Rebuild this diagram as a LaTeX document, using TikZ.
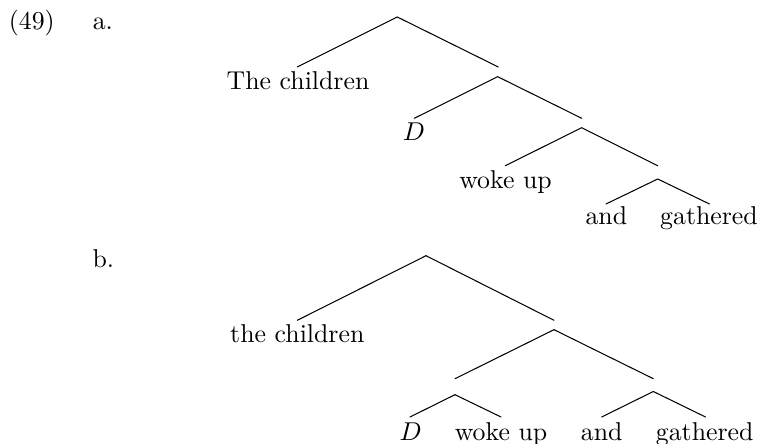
\documentclass[tikz,border=0pt]{standalone}
\begin{document}
\begin{tikzpicture}[x=0.3876pt,y=-0.3876pt,
  br/.style={line width=0.4pt, line cap=round},
  word/.style={inner sep=0pt, anchor=base},
  tag/.style={inner sep=0pt, anchor=base west}]
\useasboundingbox (0,0) rectangle (760,444);
% labels
\node[tag] (ex) at (8.3,30) {(49)};
\node[tag] (la) at (92.3,30) {a.};
\node[tag] (lb) at (92,268) {b.};

% ---------- tree a ----------
\coordinate (a1) at (397.3,17);
\coordinate (a1l) at (297.3,67);
\coordinate (a1r) at (498.3,67);
\coordinate (a2) at (497.7,76.7);
\coordinate (a2l) at (414.3,118.3);
\coordinate (a2r) at (581.7,118.3);
\coordinate (a3) at (581.7,127.7);
\coordinate (a3l) at (505.3,165.7);
\coordinate (a3r) at (657.7,165.7);
\coordinate (a4) at (657.7,179);
\coordinate (a4l) at (606,204);
\coordinate (a4r) at (709.5,204);
\node[word] (ta) at (298,90) {The children};
\node[word] (da) at (414,140.5) {$D$};
\node[word] (wa) at (505.5,188.3) {woke up};
\node[word] (na) at (606.3,225) {and};
\node[word] (ga) at (709,225) {gathered};
\draw[br] (a1l) -- (a1) -- (a1r);
\draw[br] (a2l) -- (a2) -- (a2r);
\draw[br] (a3l) -- (a3) -- (a3r);
\draw[br] (a4l) -- (a4) -- (a4r);

% ---------- tree b ----------
\coordinate (b1) at (426,255.7);
\coordinate (b1l) at (297.3,320.3);
\coordinate (b1r) at (554,320.3);
\coordinate (b2) at (554,329.7);
\coordinate (b2l) at (455,378.7);
\coordinate (b2r) at (653.3,378.7);
\coordinate (b3) at (455,394.7);
\coordinate (b3l) at (410,417);
\coordinate (b3r) at (501,417);
\coordinate (b4) at (653.3,391.5);
\coordinate (b4l) at (601.7,417);
\coordinate (b4r) at (705.5,417);
\node[word] (tb) at (297.3,343) {the children};
\node[word] (db) at (410.7,440.5) {$D$};
\node[word] (wb) at (501,440.5) {woke up};
\node[word] (nb) at (601.7,440.5) {and};
\node[word] (gb) at (704.7,440.5) {gathered};
\draw[br] (b1l) -- (b1) -- (b1r);
\draw[br] (b2l) -- (b2) -- (b2r);
\draw[br] (b3l) -- (b3) -- (b3r);
\draw[br] (b4l) -- (b4) -- (b4r);
\end{tikzpicture}
\end{document}
